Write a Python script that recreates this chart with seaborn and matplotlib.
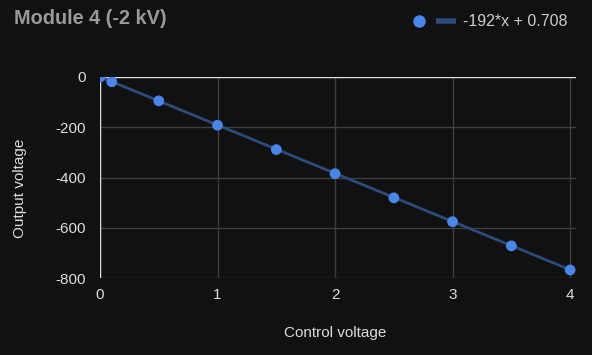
import numpy as np
import pandas as pd
import matplotlib
matplotlib.use("Agg")
import matplotlib.pyplot as plt
import seaborn as sns
from matplotlib.legend_handler import HandlerTuple
from matplotlib.lines import Line2D

control_voltage = [0, 0.1, 0.5, 1, 1.5, 2, 2.5, 3, 3.5, 4]
output_voltage = [0, -19, -95, -192, -289, -385, -481, -576, -672, -768]

# Linear trend line shown in the legend
slope = -192
intercept = 0.708
trend_label = "-192*x + 0.708"

data = pd.DataFrame({"Control voltage": control_voltage, "Output voltage": output_voltage})
trend = pd.DataFrame({"x": [0, 4], "y": [intercept, slope * 4 + intercept]})

bg = "#111111"
point_color = "#4a86e8"
trend_color = "#2c4b7c"

sns.set_style("dark")
plt.rcParams['font.family'] = ['Liberation Sans', 'DejaVu Sans']
plt.rcParams['axes.unicode_minus'] = False

fig = plt.figure(figsize=(5.92, 3.55), dpi=100, facecolor=bg)
ax = fig.add_axes([100 / 592, 1 - 278 / 355, 476 / 592, 201 / 355])
ax.set_facecolor(bg)

sns.lineplot(data=trend, x="x", y="y", ax=ax, color=trend_color, linewidth=2, zorder=3)
sns.scatterplot(data=data, x="Control voltage", y="Output voltage", ax=ax,
                color=point_color, s=60, edgecolor="none", zorder=4)

ax.set_xlim(0, 4.05)
ax.set_ylim(-800, 0)
ax.set_xticks([0, 1, 2, 3, 4])
ax.set_yticks([0, -200, -400, -600, -800])

ax.grid(True, color="#3e3e3e", linewidth=1)
ax.axhline(0, color="#dddddd", linewidth=1, zorder=2)
ax.axvline(0, color="#dddddd", linewidth=1, zorder=2)
for s in ax.spines.values():
    s.set_visible(False)

ax.tick_params(axis="both", length=0, labelsize=11, labelcolor="#dddddd")
ax.tick_params(axis="y", pad=10.5)
ax.tick_params(axis="x", pad=7)
ax.set_xlabel("Control voltage", color="#dddddd", fontsize=11, va="center")
ax.set_ylabel("Output voltage", color="#dddddd", fontsize=11, va="center")
ax.xaxis.set_label_coords(335 / 592, 1 - 333 / 355, transform=fig.transFigure)
ax.yaxis.set_label_coords(20 / 592, 1 - 188 / 355, transform=fig.transFigure)

fig.text(14 / 592, 1 - 19 / 355, "Module 4 (-2 kV)", color="#9a9a9a",
         fontsize=14.3, fontweight="bold", va="center", ha="left")

dot = Line2D([], [], marker="o", linestyle="none", color=point_color, markersize=8)
dash = Line2D([], [], marker="_", linestyle="none", color=trend_color, markersize=14, markeredgewidth=4)
fig.legend([(dot, dash)], [trend_label], handler_map={tuple: HandlerTuple(ndivide=None, pad=0)},
           loc="center left", bbox_to_anchor=(406 / 592, 1 - 22 / 355), frameon=False,
           fontsize=11.5, labelcolor="#cccccc", handlelength=3.3, handletextpad=0.25,
           borderpad=0, borderaxespad=0)

fig.savefig("out.png", dpi=100, facecolor=bg)
